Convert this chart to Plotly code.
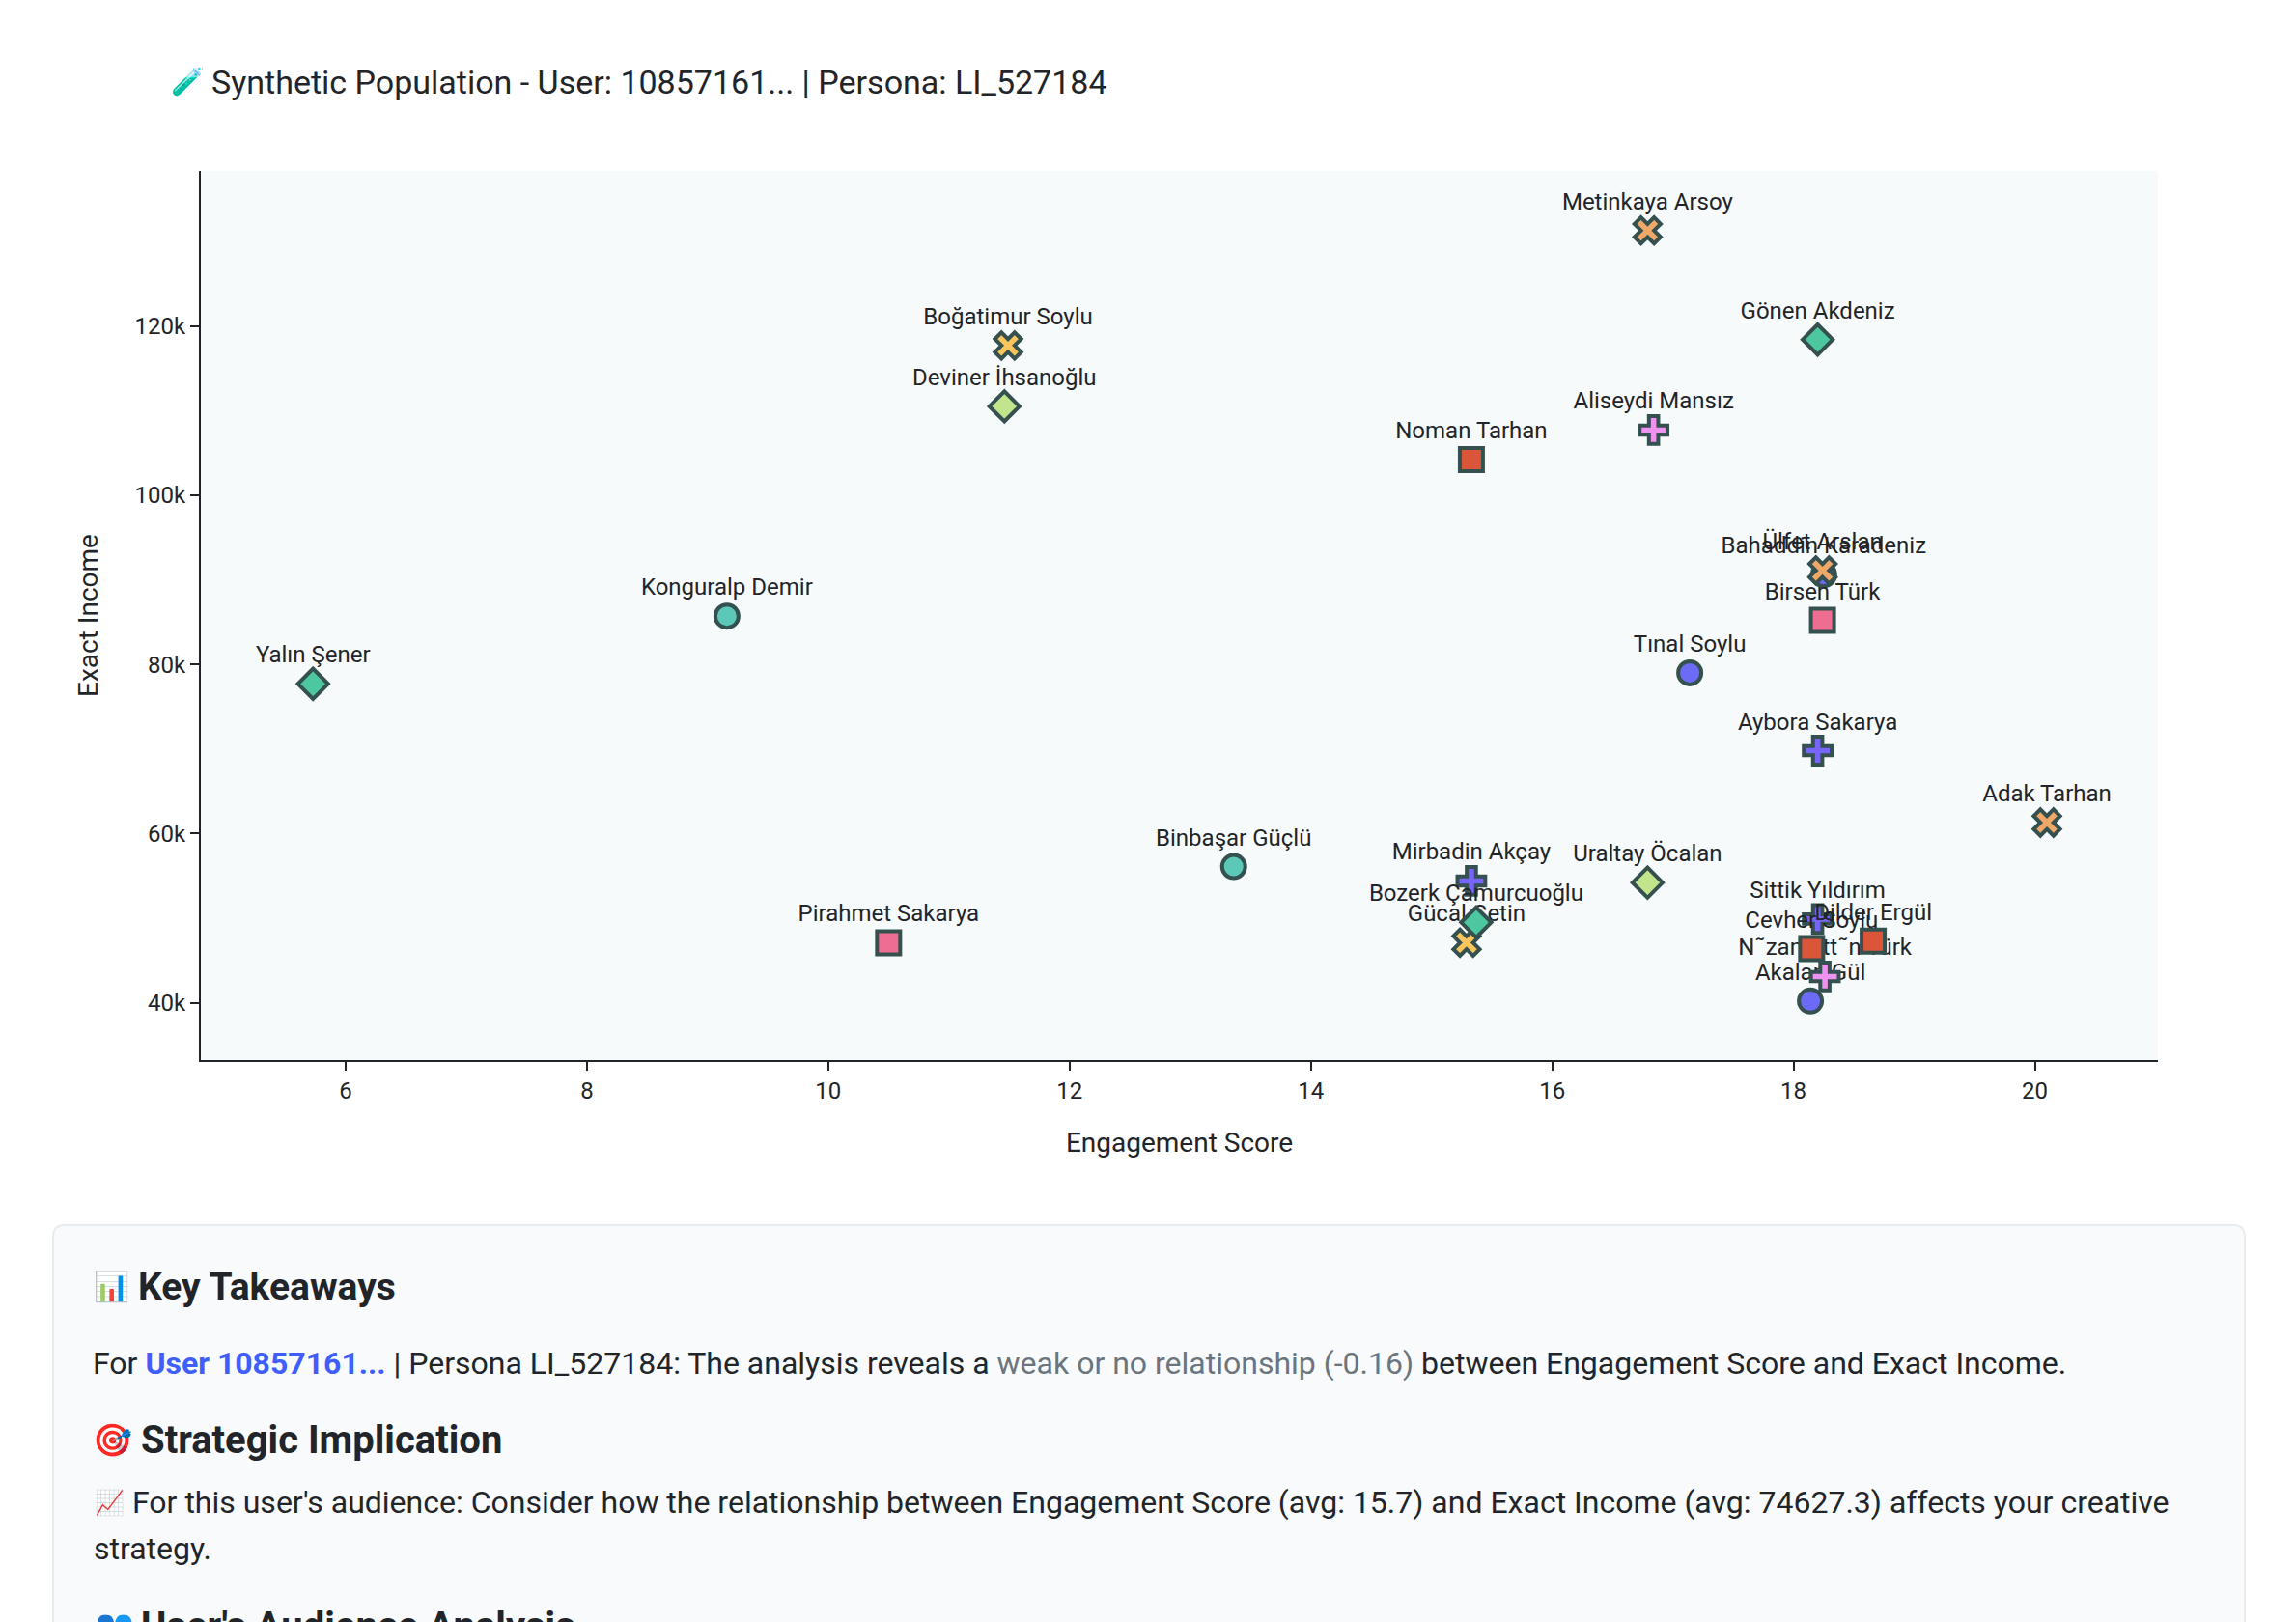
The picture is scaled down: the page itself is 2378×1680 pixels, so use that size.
import plotly.graph_objects as go

FONT = "Roboto"
INK = "#212529"
W, H = 2378, 1680
L, R, T, B = 208, 2235, 177, 1098

names_circle_blue = ["Tınal Soylu", "Akalan Gül", "Bahaddin Karadeniz"]
x_circle_blue = [17.14, 18.14, 18.25]
y_circle_blue = [79000, 40200, 90600]

names_circle_teal = ["Konguralp Demir", "Binbaşar Güçlü"]
x_circle_teal = [9.16, 13.36]
y_circle_teal = [85700, 56100]

names_cross_purple = ["Aybora Sakarya", "Mirbadin Akçay", "Sittik Yıldırım"]
x_cross_purple = [18.20, 15.33, 18.20]
y_cross_purple = [69800, 54400, 49900]

names_cross_pink = ["Aliseydi Mansız", "N˜zamett˜n Türk"]
x_cross_pink = [16.84, 18.26]
y_cross_pink = [107700, 43100]

names_x_orange = ["Metinkaya Arsoy", "Ülfet Arslan", "Adak Tarhan"]
x_x_orange = [16.79, 18.24, 20.10]
y_x_orange = [131300, 91100, 61300]

names_x_yellow = ["Boğatimur Soylu", "Gücal Çetin"]
x_x_yellow = [11.49, 15.29]
y_x_yellow = [117700, 47100]

names_diamond_green = ["Gönen Akdeniz", "Yalın Şener", "Bozerk Çamurcuoğlu"]
x_diamond_green = [18.20, 5.73, 15.37]
y_diamond_green = [118400, 77700, 49500]

names_diamond_lime = ["Deviner İhsanoğlu", "Uraltay Öcalan"]
x_diamond_lime = [11.46, 16.79]
y_diamond_lime = [110500, 54200]

names_square_red = ["Noman Tarhan", "Dilder Ergül", "Cevher Soylu"]
x_square_red = [15.33, 18.66, 18.15]
y_square_red = [104200, 47300, 46400]

names_square_pink = ["Birsen Türk", "Pirahmet Sakarya"]
x_square_pink = [18.24, 10.50]
y_square_pink = [85200, 47100]

series = [
    (names_circle_blue, x_circle_blue, y_circle_blue, "circle", "#6B6BF5"),
    (names_circle_teal, x_circle_teal, y_circle_teal, "circle", "#5CC9B8"),
    (names_cross_purple, x_cross_purple, y_cross_purple, "cross", "#7766F5"),
    (names_cross_pink, x_cross_pink, y_cross_pink, "cross", "#EE92F0"),
    (names_x_orange, x_x_orange, y_x_orange, "x", "#F0A868"),
    (names_x_yellow, x_x_yellow, y_x_yellow, "x", "#FBC55D"),
    (names_diamond_green, x_diamond_green, y_diamond_green, "diamond", "#4CC79F"),
    (names_diamond_lime, x_diamond_lime, y_diamond_lime, "diamond", "#C2E48C"),
    (names_square_red, x_square_red, y_square_red, "square", "#DB5539"),
    (names_square_pink, x_square_pink, y_square_pink, "square", "#EE6E92"),
]

fig = go.Figure()
for names, xs, ys, sym, col in series:
    fig.add_trace(go.Scatter(
        x=xs, y=ys, text=names, mode="markers+text", textposition="top center",
        textfont=dict(family=FONT, size=24, color=INK), cliponaxis=False,
        marker=dict(symbol=sym, size=24, color=col, line=dict(width=4, color="#34504F")),
        showlegend=False,
    ))

def px(v):
    return (v - L) / (R - L)

def py(v):
    return (B - v) / (B - T)

def text(x, y, s, size, bold=False):
    fig.add_annotation(xref="paper", yref="paper", x=px(x), y=py(y), text=f"<b>{s}</b>" if bold else s,
                       xanchor="left", yanchor="middle", showarrow=False, align="left",
                       font=dict(family=FONT, size=size, color=INK))

cx0, cx1, cy0, cy1, r = 55, 2325, 1269, 1720, 12
card = (f"M {px(cx0)},{py(cy0 + r)} Q {px(cx0)},{py(cy0)} {px(cx0 + r)},{py(cy0)} "
        f"L {px(cx1 - r)},{py(cy0)} Q {px(cx1)},{py(cy0)} {px(cx1)},{py(cy0 + r)} "
        f"L {px(cx1)},{py(cy1)} L {px(cx0)},{py(cy1)} Z")
fig.add_shape(type="path", xref="paper", yref="paper", path=card, fillcolor="#F8FAFB",
              line=dict(color="#E9ECEF", width=2), layer="below")

text(175, 85, "🧪", 28)
text(216.5, 85, "Synthetic Population - User: 10857161... | Persona: LI_527184", 34)
text(95, 1332, "📊", 30)
text(141, 1333, "Key Takeaways", 39, True)
text(94, 1412, 'For <b><span style="color:#3F5EFB">User 10857161...</span></b> | Persona LI_527184: '
     'The analysis reveals a <span style="color:#6C757D">weak or no relationship (-0.16)</span> '
     'between Engagement Score and Exact Income.', 32)
text(94, 1491, "🎯", 33)
text(144, 1491, "Strategic Implication", 40, True)
text(96, 1556, "📈", 25)
text(135, 1556, "For this user's audience: Consider how the relationship between Engagement Score "
     "(avg: 15.7) and Exact Income (avg: 74627.3) affects your creative", 32)
text(95, 1604, "strategy.", 32)
text(96, 1684, "👥", 33)
text(144, 1685, "User's Audience Analysis", 40, True)

axis = dict(showgrid=False, zeroline=False, showline=True, linecolor=INK, linewidth=2,
            ticks="outside", ticklen=9, tickwidth=2, tickcolor=INK,
            tickfont=dict(family=FONT, size=24, color=INK))
fig.update_layout(
    width=W, height=H, paper_bgcolor="white", plot_bgcolor="#F7FAFB",
    margin=dict(l=L, r=W - R, t=T, b=H - B, autoexpand=False),
    showlegend=False,
    xaxis=dict(axis, range=[4.80, 21.02], dtick=2, tick0=0,
               title=dict(text="Engagement Score", standoff=31, font=dict(family=FONT, size=28, color=INK))),
    yaxis=dict(axis, range=[33220, 138340], dtick=20000, tick0=0, tickformat="~s",
               title=dict(text="Exact Income", standoff=30, font=dict(family=FONT, size=28, color=INK))),
)
fig.write_html("out.html", config={"displayModeBar": False},
               post_script="document.body.style.margin='0';document.documentElement.style.overflow='hidden';")
